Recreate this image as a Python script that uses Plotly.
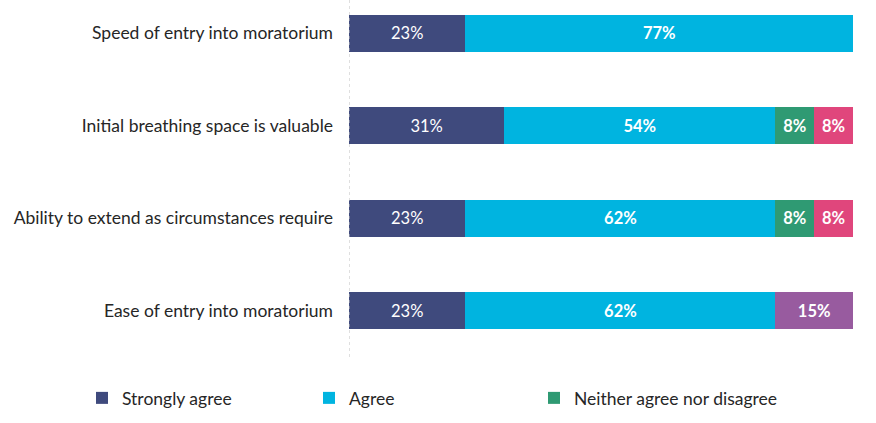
import plotly.graph_objects as go

# Statements, listed bottom to top as plotted
statements = ["Ease of entry into moratorium",
              "Ability to extend as circumstances require",
              "Initial breathing space is valuable",
              "Speed of entry into moratorium"]

# Share of respondents (%), same order as statements
strongly_agree = [23.1, 23.1, 30.8, 23.1]
agree = [61.5, 61.5, 53.8, 76.9]
neither = [None, 7.7, 7.7, None]
disagree = [None, 7.7, 7.7, None]
dont_know = [15.4, None, None, None]

# name, values, colour, label weight, legend id (None = not in legend)
series = [
    ("Strongly agree", strongly_agree, "#3F4A7D", "normal", "legend"),
    ("Agree", agree, "#00B4E0", "bold", "legend2"),
    ("Neither agree nor disagree", neither, "#2F9A73", "bold", "legend3"),
    ("Disagree", disagree, "#E0467C", "bold", None),
    ("Don't know", dont_know, "#985B9F", "bold", None),
]

font_family = "Lato, 'Open Sans', sans-serif"

fig = go.Figure()
for name, vals, color, weight, leg in series:
    fig.add_trace(go.Bar(
        y=statements,
        x=vals,
        name=name,
        orientation="h",
        marker=dict(color=color, line=dict(width=0)),
        texttemplate="%{x:.0f}%",
        textposition="inside",
        insidetextanchor="middle",
        textfont=dict(color="white", size=16.5, family=font_family, weight=weight),
        showlegend=leg is not None,
        legend=leg or "legend",
    ))

# dotted axis line at 0
fig.add_shape(type="line", xref="x", yref="paper", x0=0, x1=0, y0=0, y1=1,
              line=dict(color="#BFBFBF", width=1, dash="dot"))


def legend_at(px):
    return dict(orientation="h", xref="container", yref="container",
                x=px / 876, y=1 - 398 / 423, xanchor="left", yanchor="middle",
                bgcolor="rgba(0,0,0,0)",
                font=dict(size=17.5, color="#262626"))


fig.update_layout(
    barmode="stack",
    bargap=0.6,
    width=876,
    height=423,
    margin=dict(l=349, r=23, t=0, b=66),
    plot_bgcolor="white",
    paper_bgcolor="white",
    font=dict(family=font_family, color="#262626", size=17),
    legend=legend_at(82),
    legend2=legend_at(309),
    legend3=legend_at(534),
)

fig.update_xaxes(range=[0, 100], showgrid=False, showticklabels=False,
                 zeroline=False, showline=False)
fig.update_yaxes(categoryorder="array", categoryarray=statements,
                 range=[-0.5, 3.36], showgrid=False, showline=False,
                 ticks="", ticklabelstandoff=15,
                 tickfont=dict(size=17.5, color="#262626"))

# page body has a default margin; drop it so the figure sits at the window corner
fig.write_html("out.html", config={"displayModeBar": False},
               post_script="document.body.style.margin='0';")
